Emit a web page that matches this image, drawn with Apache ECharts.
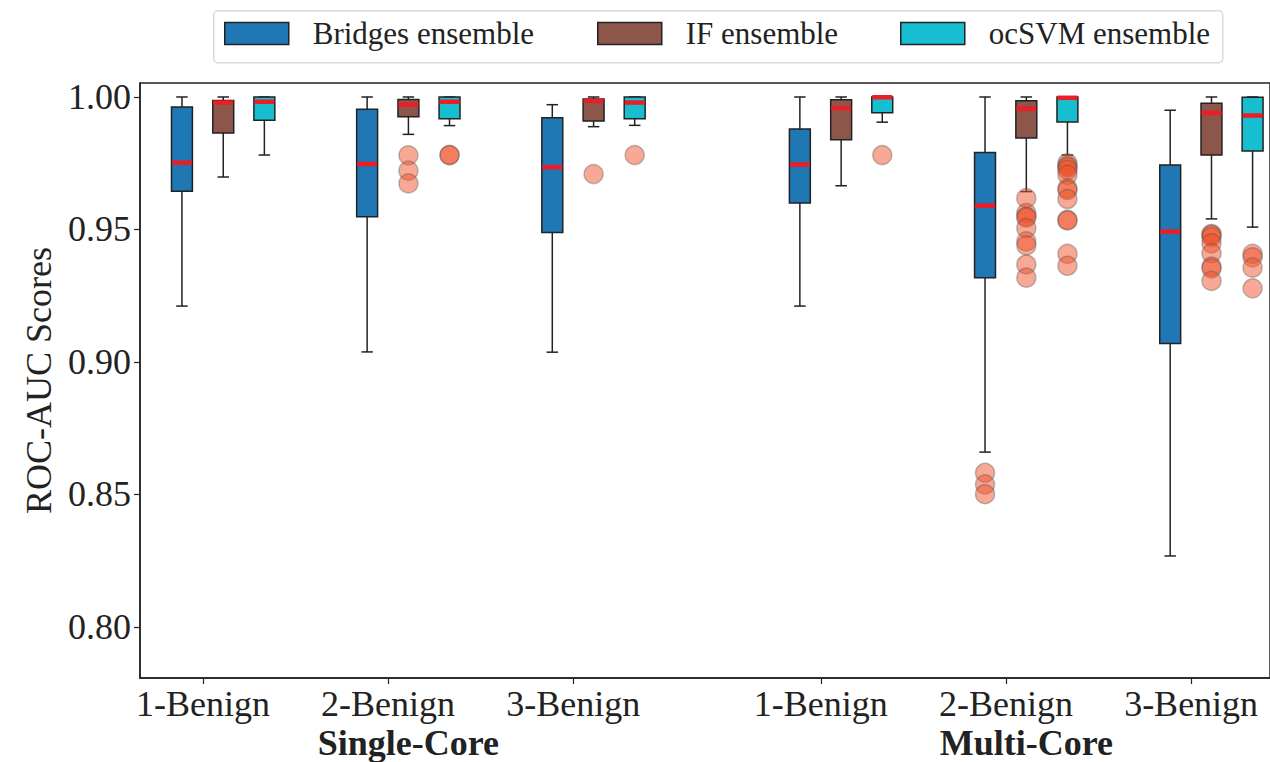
<!DOCTYPE html>
<html>
<head>
<meta charset="utf-8">
<title>ROC-AUC Scores</title>
<script src="https://cdn.jsdelivr.net/npm/echarts@6/dist/echarts.min.js"></script>
<style>
  html, body { margin: 0; padding: 0; background: #fff; }
  #chart { width: 1270px; height: 762px; }
</style>
</head>
<body>
<div id="chart"></div>
<script>
// ---- data ----
const TICK_LABELS = ['1-Benign', '2-Benign', '3-Benign', '1-Benign', '2-Benign', '3-Benign'];
const GROUP_LABELS = ['Single-Core', 'Multi-Core'];
const METHODS = ['Bridges ensemble', 'IF ensemble', 'ocSVM ensemble'];
const Y_TICKS = [0.80, 0.85, 0.90, 0.95, 1.00];

// box statistics per setting: [lower whisker, Q1, median, Q3, upper whisker]
const bridgesStats = [
  [0.9211, 0.9644, 0.9752, 0.9962, 1.0000],
  [0.9038, 0.9548, 0.9747, 0.9954, 1.0000],
  [0.9037, 0.9489, 0.9735, 0.9922, 0.9971],
  [0.9211, 0.9600, 0.9745, 0.9879, 1.0000],
  [0.8660, 0.9318, 0.9590, 0.9791, 1.0000],
  [0.8268, 0.9070, 0.9492, 0.9743, 0.9950]
];
const ifStats = [
  [0.9698, 0.9864, 0.9979, 0.9987, 1.0000],
  [0.9859, 0.9925, 0.9971, 0.9991, 1.0000],
  [0.9888, 0.9909, 0.9985, 0.9992, 1.0000],
  [0.9665, 0.9839, 0.9958, 0.9990, 1.0000],
  [0.9643, 0.9845, 0.9956, 0.9986, 1.0000],
  [0.9540, 0.9781, 0.9940, 0.9976, 1.0000]
];
const ocsvmStats = [
  [0.9781, 0.9912, 0.9982, 1.0000, 1.0000],
  [0.9892, 0.9918, 0.9982, 1.0000, 1.0000],
  [0.9893, 0.9918, 0.9979, 1.0000, 1.0000],
  [0.9905, 0.9941, 0.9999, 1.0000, 1.0000],
  [0.9781, 0.9906, 0.9997, 1.0000, 1.0000],
  [0.9509, 0.9796, 0.9930, 0.9999, 1.0000]
];

// outliers per setting
const bridgesOutliers = [
  [], [], [], [],
  [0.8582, 0.8538, 0.8501],
  []
];
const ifOutliers = [
  [],
  [0.9780, 0.9722, 0.9674],
  [0.9709],
  [],
  [0.9618, 0.9562, 0.9549, 0.9545, 0.9505, 0.9455, 0.9440, 0.9368, 0.9318],
  [0.9483, 0.9480, 0.9472, 0.9448, 0.9410, 0.9360, 0.9353, 0.9306]
];
const ocsvmOutliers = [
  [],
  [0.9781, 0.9781],
  [0.9781],
  [0.9781],
  [0.9750, 0.9740, 0.9735, 0.9725, 0.9706, 0.9655, 0.9649, 0.9615, 0.9536, 0.9534, 0.9408, 0.9363],
  [0.9408, 0.9395, 0.9356, 0.9278]
];

// ---- layout on the x axis ----
const GROUP_POS = [0, 1, 2, 3.337, 4.337, 5.337];
const GROUP_LABEL_POS = [GROUP_POS[1] + 0.11, GROUP_POS[4] + 0.11];
const METHOD_OFFSET = [-0.113, 0.110, 0.332];
const BOX_WIDTH = 0.113;
const COLORS = ['#1f77b4', '#8c564b', '#17becf'];
const FONT = "'Liberation Serif', 'Times New Roman', serif";
const INK = '#222';

const allStats = [bridgesStats, ifStats, ocsvmStats];
const allOutliers = [bridgesOutliers, ifOutliers, ocsvmOutliers];

function renderBox(params, api) {
  const x = api.value(0);
  const lo = api.coord([x, api.value(1)]);
  const q1 = api.coord([x, api.value(2)]);
  const med = api.coord([x, api.value(3)]);
  const q3 = api.coord([x, api.value(4)]);
  const hi = api.coord([x, api.value(5)]);
  const w = api.size([BOX_WIDTH, 0])[0];
  const cap = w * 0.55;
  const cx = lo[0];
  const line = { stroke: INK, lineWidth: 1.5 };
  const color = api.visual('color');
  return {
    type: 'group',
    children: [
      { type: 'line', shape: { x1: cx, y1: hi[1], x2: cx, y2: q3[1] }, style: line },
      { type: 'line', shape: { x1: cx, y1: q1[1], x2: cx, y2: lo[1] }, style: line },
      { type: 'line', shape: { x1: cx - cap / 2, y1: hi[1], x2: cx + cap / 2, y2: hi[1] }, style: line },
      { type: 'line', shape: { x1: cx - cap / 2, y1: lo[1], x2: cx + cap / 2, y2: lo[1] }, style: line },
      { type: 'rect', shape: { x: cx - w / 2, y: q3[1], width: w, height: q1[1] - q3[1] },
        style: { fill: color, stroke: INK, lineWidth: 1.5 } },
      { type: 'line', shape: { x1: cx - w / 2 + 0.5, y1: med[1], x2: cx + w / 2 - 0.5, y2: med[1] },
        style: { stroke: '#ee1c24', lineWidth: 4.5 } }
    ]
  };
}

const series = [];
METHODS.forEach((name, m) => {
  series.push({
    name: name,
    type: 'custom',
    renderItem: renderBox,
    itemStyle: { color: COLORS[m] },
    encode: { x: 0, y: [1, 2, 3, 4, 5] },
    data: allStats[m].map((s, g) => [GROUP_POS[g] + METHOD_OFFSET[m]].concat(s)),
    z: 2
  });
});

const outlierPoints = [];
allOutliers.forEach((groups, m) => {
  groups.forEach((vals, g) => {
    vals.forEach(v => outlierPoints.push([GROUP_POS[g] + METHOD_OFFSET[m], v]));
  });
});
series.push({
  name: 'outliers',
  type: 'scatter',
  data: outlierPoints,
  symbol: 'circle',
  symbolSize: 19,
  itemStyle: {
    color: 'rgba(240, 80, 40, 0.62)',
    borderColor: 'rgba(80, 80, 80, 0.45)',
    borderWidth: 1.5
  },
  z: 3
});

const legendLeft = [224, 597, 900];
const legends = METHODS.map((name, m) => ({
  left: legendLeft[m],
  top: 18,
  padding: 0,
  itemWidth: 64,
  itemHeight: 22,
  selectedMode: false,
  data: [{
    name: name,
    icon: 'rect',
    itemStyle: { color: COLORS[m], borderColor: INK, borderWidth: 1.5 }
  }],
  textStyle: { fontFamily: FONT, fontSize: 31, color: INK, padding: [0, 0, 0, 19] }
}));

const chart = echarts.init(document.getElementById('chart'), null, { renderer: 'svg' });
chart.setOption({
  animation: false,
  backgroundColor: '#fff',
  graphic: [{
    type: 'rect',
    left: 213, top: 10,
    shape: { width: 1009, height: 52, r: 4 },
    style: { fill: '#fff', stroke: '#d9d9d9', lineWidth: 1.5 },
    z: 0
  }],
  legend: legends,
  grid: {
    left: 140, top: 83, right: -2, bottom: 84,
    show: true, borderColor: INK, borderWidth: 1.5, backgroundColor: 'transparent'
  },
  xAxis: [{
    type: 'value',
    min: -0.3396, max: 5.763,
    splitLine: { show: false },
    axisLine: { onZero: false, lineStyle: { color: INK, width: 1.5 } },
    axisTick: { customValues: GROUP_POS, length: 6, lineStyle: { color: INK, width: 1.2 } },
    axisLabel: {
      customValues: GROUP_POS,
      formatter: v => {
        let best = 0;
        GROUP_POS.forEach((p, i) => { if (Math.abs(p - v) < Math.abs(GROUP_POS[best] - v)) best = i; });
        return TICK_LABELS[best];
      },
      fontFamily: FONT, fontSize: 36, color: INK, margin: 8
    }
  }, {
    type: 'value',
    position: 'bottom',
    min: -0.3396, max: 5.763,
    splitLine: { show: false },
    axisLine: { show: false, onZero: false },
    axisTick: { show: false },
    axisLabel: {
      customValues: GROUP_LABEL_POS,
      formatter: v => (v < 3 ? GROUP_LABELS[0] : GROUP_LABELS[1]),
      fontFamily: FONT, fontSize: 36, fontWeight: 'bold', color: INK, margin: 47
    }
  }],
  yAxis: {
    type: 'value',
    min: 0.78075, max: 1.00528,
    name: 'ROC-AUC Scores',
    nameLocation: 'middle',
    nameGap: 80,
    nameTextStyle: { fontFamily: FONT, fontSize: 36, color: INK },
    splitLine: { show: false },
    axisLine: { show: true, onZero: false, lineStyle: { color: INK, width: 1.5 } },
    axisTick: { show: true, customValues: Y_TICKS, length: 6, lineStyle: { color: INK, width: 1.2 } },
    axisLabel: {
      customValues: Y_TICKS,
      formatter: v => v.toFixed(2),
      fontFamily: FONT, fontSize: 36, color: INK, margin: 9
    }
  },
  series: series
});
</script>
</body>
</html>
